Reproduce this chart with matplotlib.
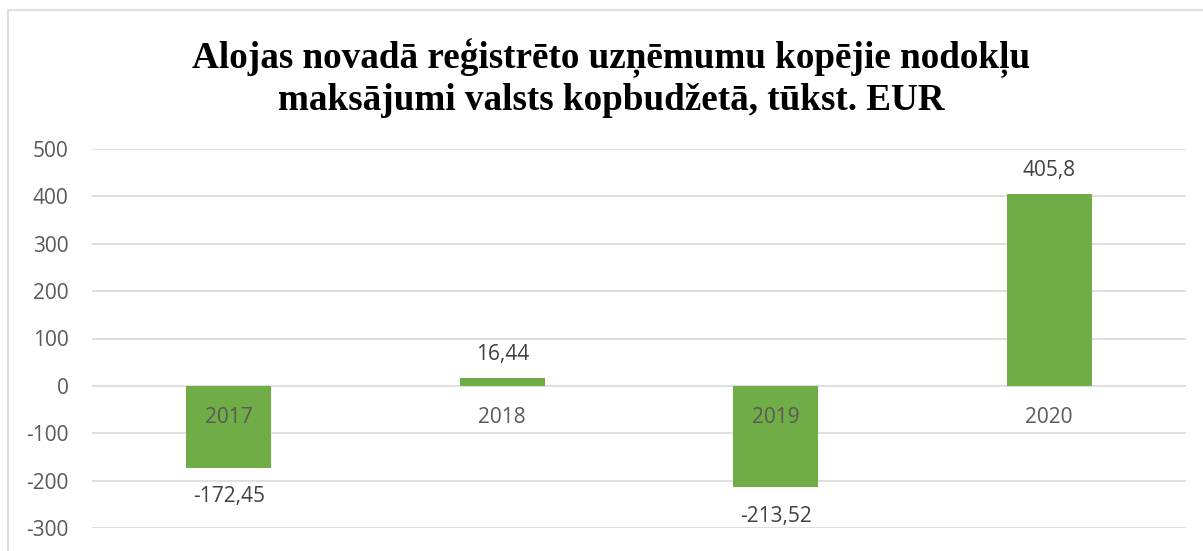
import matplotlib
matplotlib.use("Agg")
from matplotlib import pyplot as plt
from matplotlib.patches import Rectangle

years = ["2017", "2018", "2019", "2020"]
values = [-172.45, 16.44, -213.52, 405.8]
value_labels = ["-172,45", "16,44", "-213,52", "405,8"]
yticks = [-300, -200, -100, 0, 100, 200, 300, 400, 500]

W, H = 1203, 551
fig = plt.figure(figsize=(W / 100, H / 100), dpi=100)

# chart frame (bottom/right edges are cut off in the reference)
fig.patches.append(Rectangle((8 / W, -0.1), 1.2, (H - 10) / H + 0.1,
                             transform=fig.transFigure, fill=False,
                             edgecolor="#D9D9D9", lw=1.2))

# plot area: x 92..1186 px, y 500 at 149 px, -300 at 528 px
ax = fig.add_axes([92 / W, (H - 528) / H, (1186 - 92) / W, (528 - 149) / H])
ax.set_ylim(-300, 500)
ax.set_xlim(-0.5, 3.5)

ax.bar(range(len(years)), values, width=0.31, color="#70AD47", zorder=3)

ax.set_yticks(yticks)
ax.set_yticklabels([str(v) for v in yticks])
ax.tick_params(axis="y", length=0, pad=17, labelsize=15, labelcolor="#595959")
for lab in ax.get_yticklabels():
    lab.set_family("Open Sans")
ax.set_xticks([])
ax.grid(axis="y", color="#D9D9D9", lw=1.2, zorder=0)
for s in ax.spines.values():
    s.set_visible(False)

# category labels sit just below the zero line
for i, yr in enumerate(years):
    ax.annotate(yr, (i, 0), xytext=(0, -23), textcoords="offset points",
                ha="center", va="center", fontsize=15, color="#595959",
                family="Open Sans", zorder=4)

# data labels
for i, (v, lab) in enumerate(zip(values, value_labels)):
    off = 17 if v > 0 else -21
    ax.annotate(lab, (i, v), xytext=(0, off), textcoords="offset points",
                ha="center", va="center", fontsize=15, color="#404040",
                family="Open Sans", zorder=4)

fig.text(611 / W, 1 - 78 / H,
         "Alojas novadā reģistrēto uzņēmumu kopējie nodokļu\nmaksājumi valsts kopbudžetā, tūkst. EUR",
         ha="center", va="center", fontsize=26.7, fontweight="bold",
         family="Liberation Serif", linespacing=1.2)

fig.savefig("out.png", dpi=100, facecolor="white")
